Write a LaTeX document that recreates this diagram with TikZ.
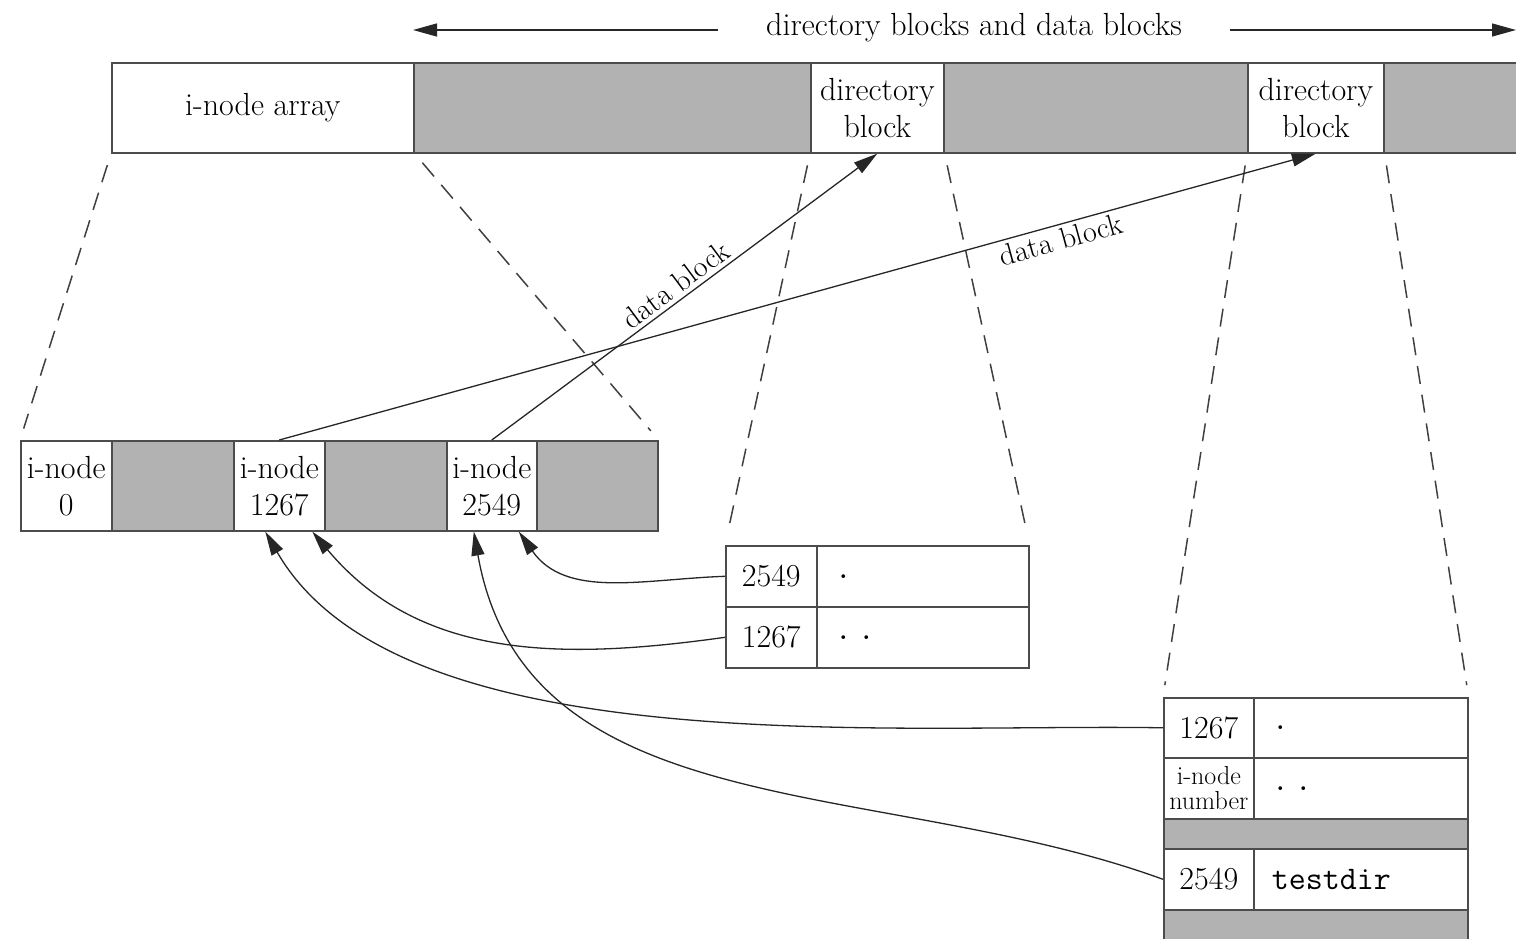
\documentclass[tikz,border=0pt]{standalone}
\usetikzlibrary{arrows.meta}
\tikzset{
  box/.style={draw=black!70, line width=1.6pt, inner sep=0pt, anchor=north west, align=center,
    minimum height=90pt, font=\fontsize{32}{37}\selectfont},
  shade/.style={box, fill=black!30},
  entry/.style={box, align=left, inner xsep=18pt, font=\fontsize{33}{34}\ttfamily},
  link/.style={draw=black!85, line width=1.3pt, -{Triangle[length=24pt,width=13pt]}},
  guide/.style={draw=black!75, line width=1.5pt, dash pattern=on 18pt off 11pt,
    shorten <=12pt, shorten >=12pt},
  lbl/.style={font=\fontsize{30}{32}\selectfont, inner sep=4pt},
}
\begin{document}
\begin{tikzpicture}[x=1pt,y=-1pt]
\useasboundingbox (0,0) rectangle (1516,939);

\node[inner xsep=48pt, font=\fontsize{32}{36}\selectfont] (title) at (974,28) {directory blocks and data blocks};
\coordinate (ltip) at (413,30);
\coordinate (rtip) at (1516,30);
\draw[link] (title.west |- ltip) -- (ltip);
\draw[link] (title.east |- rtip) -- (rtip);

% the disk
\node[box, minimum width=302pt] (iarr) at (111,62) {i-node array};
\node[shade, minimum width=397pt] (blk1) at (413,62) {};
\node[box, minimum width=133pt] (dir1) at (810,62) {directory\\block};
\node[shade, minimum width=304pt] (blk2) at (943,62) {};
\node[box, minimum width=136pt] (dir2) at (1247,62) {directory\\block};
\node[shade, minimum width=150pt] (blk3) at (1383,62) {};

% i-node array
\node[box, minimum width=91pt] (ino0) at (20,440) {i-node\\0};
\node[shade, minimum width=122pt] (igap1) at (111,440) {};
\node[box, minimum width=91pt] (ino1267) at (233,440) {i-node\\1267};
\node[shade, minimum width=122pt] (igap2) at (324,440) {};
\node[box, minimum width=90pt] (ino2549) at (446,440) {i-node\\2549};
\node[shade, minimum width=121pt] (igap3) at (536,440) {};

% first directory block
\node[box, minimum width=91pt, minimum height=61pt] (d1n1) at (725,545) {2549};
\node[entry, text width=176pt, minimum height=61pt] (d1f1) at (816,545) {.};
\node[box, minimum width=91pt, minimum height=61pt] (d1n2) at (725,606) {1267};
\node[entry, text width=176pt, minimum height=61pt] (d1f2) at (816,606) {.\hspace{6pt}.};

% second directory block
\node[box, minimum width=90pt, minimum height=60pt] (d2n1) at (1163,697) {1267};
\node[entry, text width=178pt, minimum height=60pt] (d2f1) at (1253,697) {.};
\node[box, minimum width=90pt, minimum height=61pt, font=\fontsize{26}{25}\selectfont] (d2n2) at (1163,757) {i-node\\number};
\node[entry, text width=178pt, minimum height=61pt] (d2f2) at (1253,757) {.\hspace{6pt}.};
\node[shade, minimum width=304pt, minimum height=30pt] (d2gap1) at (1163,818) {};
\node[box, minimum width=90pt, minimum height=61pt] (d2n3) at (1163,848) {2549};
\node[entry, text width=178pt, minimum height=61pt] (d2f3) at (1253,848) {testdir};
\node[shade, minimum width=304pt, minimum height=45pt] (d2gap2) at (1163,909) {};

% dashed guides
\draw[guide] (iarr.south west) -- (ino0.north west);
\draw[guide] (iarr.south east) -- (igap3.north east);
\draw[guide] (dir1.south west) -- (d1n1.north west);
\draw[guide] (dir1.south east) -- (d1f1.north east);
\draw[guide] (dir2.south west) -- (d2n1.north west);
\draw[guide] (dir2.south east) -- (d2f1.north east);

% data blocks
\draw[link] (ino2549.north) -- node[lbl, sloped, above] {data block} (dir1.south);
\draw[link] (ino1267.north) -- node[lbl, sloped, below, pos=0.75] {data block} (dir2.south);

% directory entries back to i-nodes
\draw[link] (d1n1.west) to[out=182, in=-55] ([xshift=27pt]ino2549.south);
\draw[link] (d1n2.west) to[out=188, in=-50] ([xshift=33pt]ino1267.south);
\draw[link] (d2n1.west) to[out=179, in=-60, looseness=0.75] ([xshift=-14pt]ino1267.south);
\draw[link] (d2n3.west) to[out=160, in=-80] ([xshift=-18pt]ino2549.south);

\end{tikzpicture}
\end{document}
